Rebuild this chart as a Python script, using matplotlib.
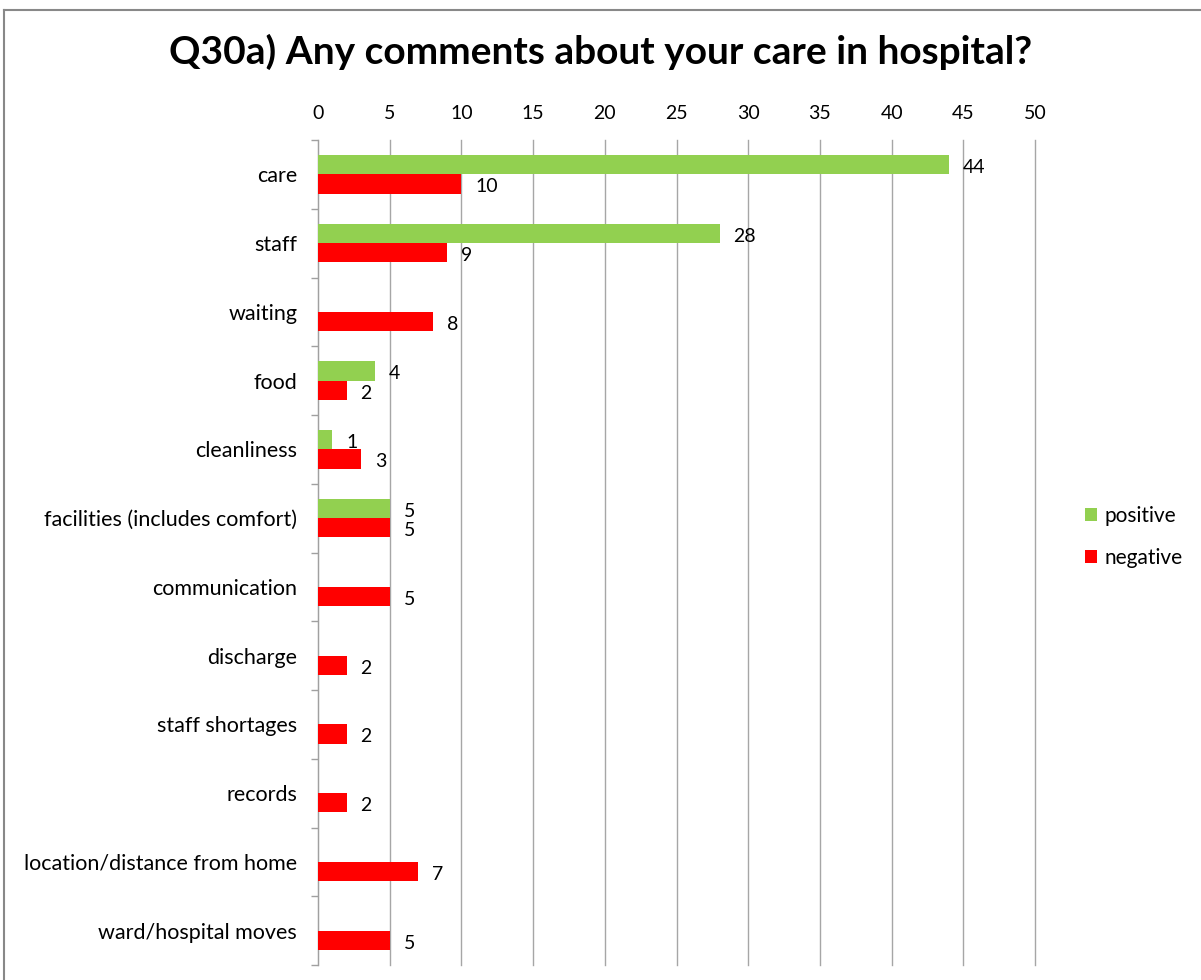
import matplotlib.pyplot as plt
from matplotlib.lines import Line2D
import numpy as np

plt.rcParams['font.family'] = ['Lato', 'DejaVu Sans']

categories = ['care', 'staff', 'waiting', 'food', 'cleanliness',
              'facilities (includes comfort)', 'communication', 'discharge',
              'staff shortages', 'records', 'location/distance from home',
              'ward/hospital moves']
positive = [44, 28, 0, 4, 1, 5, 0, 0, 0, 0, 0, 0]
negative = [10, 9, 8, 2, 3, 5, 5, 2, 2, 2, 7, 5]
ticks = [0, 5, 10, 15, 20, 25, 30, 35, 40, 45, 50]

fig = plt.figure(figsize=(12.01, 9.80), dpi=100)
ax = fig.add_axes([318 / 1201, 1 - 965 / 980, (1035 - 318) / 1201, (965 - 140) / 980])

y = np.arange(len(categories))
h = 0.28
gb = ax.barh(y - h / 2, positive, height=h, color='#92D050', label='positive', zorder=3)
rb = ax.barh(y + h / 2, negative, height=h, color='#FF0000', label='negative', zorder=3)

for bars, vals in ((gb, positive), (rb, negative)):
    for b, v in zip(bars, vals):
        if v:
            ax.annotate(str(v), (v, b.get_y() + b.get_height() / 2),
                        xytext=(10, -2), textcoords='offset points',
                        va='center', ha='left', fontsize=14)

ax.set_ylim(len(categories) - 0.5, -0.5)
ax.set_xlim(0, 50)
ax.set_xticks(ticks)
ax.xaxis.tick_top()
ax.tick_params(axis='x', length=0, labelsize=14, pad=13)
ax.set_yticks(y)
ax.set_yticklabels(categories)
ax.tick_params(axis='y', length=0, labelsize=15.5, pad=15)
ax.set_yticks(np.arange(-0.5, len(categories)), minor=True)
ax.tick_params(axis='y', which='minor', length=5, color='#A0A0A0', width=1)
ax.grid(axis='x', color='#A6A6A6', lw=1, zorder=0)
for gl in ax.get_xgridlines():
    gl.set_clip_on(False)
for s in ('top', 'right', 'bottom'):
    ax.spines[s].set_visible(False)
ax.spines['left'].set_color('#A0A0A0')

fig.suptitle('Q30a) Any comments about your care in hospital?',
             fontsize=28, fontweight='bold', y=1 - 52 / 980, va='center')

fig.legend(handles=[gb, rb], loc='center left', bbox_to_anchor=(1066 / 1201, 1 - 537 / 980),
           frameon=False, fontsize=15, handlelength=0.6, handleheight=0.6,
           handletextpad=0.35, labelspacing=1.05)

# outer border
fig.add_artist(Line2D([4 / 1201, 4 / 1201], [0, 1 - 10 / 980], color='#888888', lw=1.5))
fig.add_artist(Line2D([4 / 1201, 1], [1 - 10 / 980, 1 - 10 / 980], color='#888888', lw=1.5))

fig.savefig('out.png')
